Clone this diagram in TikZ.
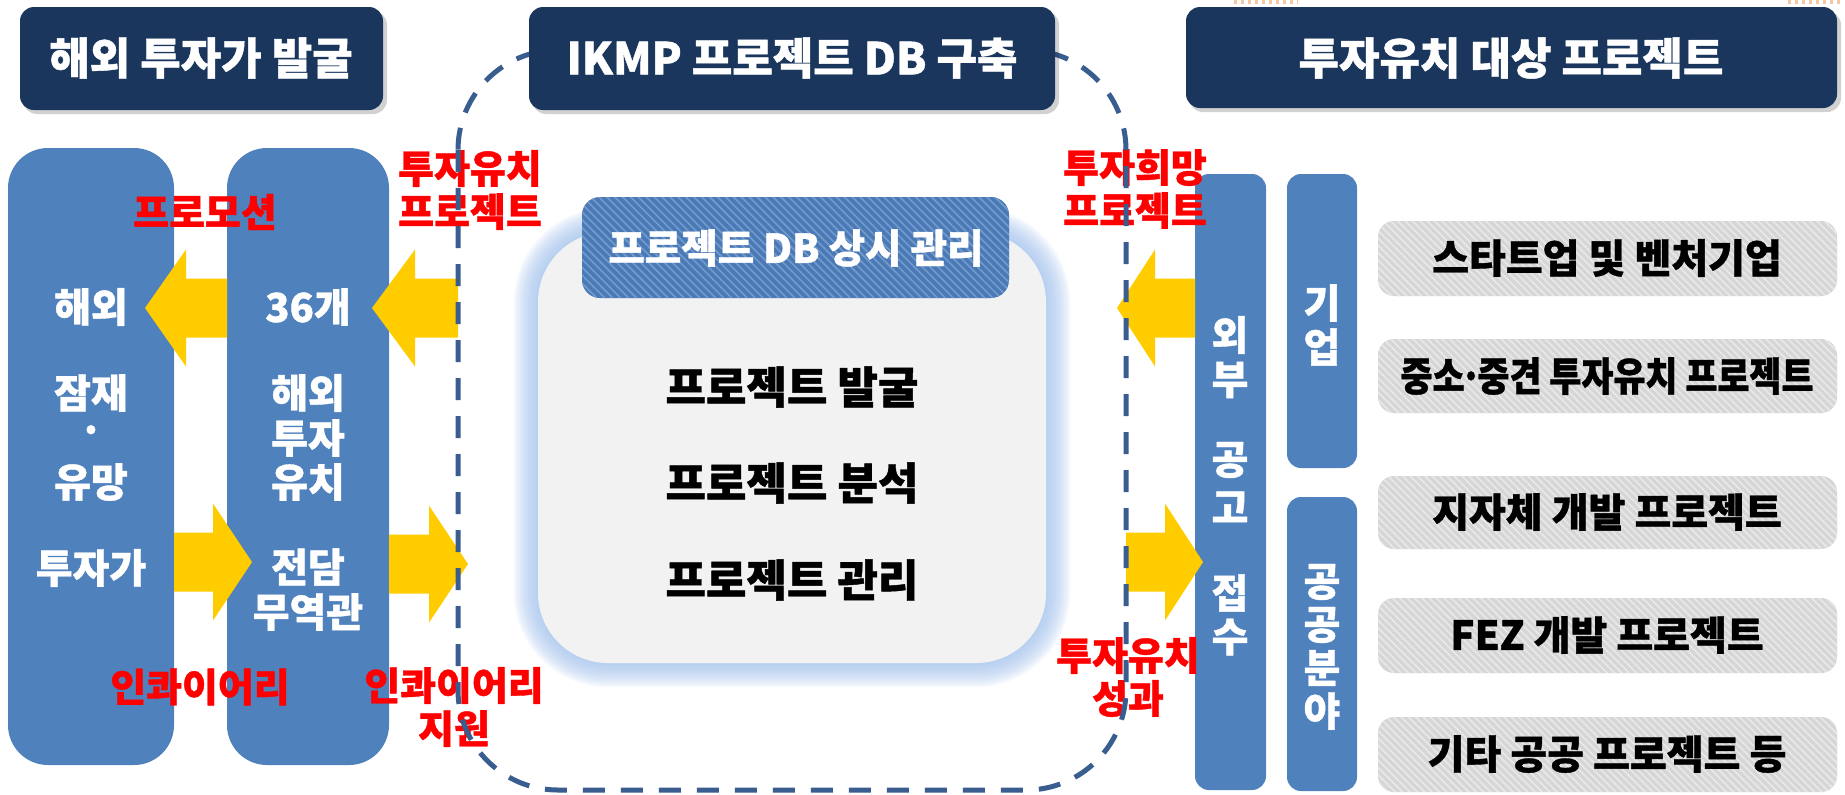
\documentclass[tikz,border=0pt]{standalone}
\usepackage{fontspec}
\setmainfont{Noto Sans CJK KR}[BoldFeatures={FakeBold=1}]
\usetikzlibrary{patterns.meta}
\definecolor{navy}{HTML}{1B365D}
\definecolor{colblue}{HTML}{4F81BD}
\definecolor{arrowc}{HTML}{FFCC00}
\definecolor{dashc}{HTML}{3A5D8F}
\definecolor{glowc}{HTML}{A7C7F0}
\definecolor{boxgray}{HTML}{F2F2F2}
\definecolor{hatchgray}{HTML}{D6D6D6}
\definecolor{hatchlight}{HTML}{E9E9E9}
\definecolor{subblue}{HTML}{4A79B6}
\definecolor{sublight}{HTML}{7099CC}
\definecolor{dotc}{HTML}{F2C9A6}
\newcommand\blockarrow[4]{% tail x, head base x, tip x, center y
  \fill[arrowc] ({#1},{#4-29.5}) -- ({#2},{#4-29.5}) -- ({#2},{#4-58.5}) -- ({#3},{#4})
    -- ({#2},{#4+58.5}) -- ({#2},{#4+29.5}) -- ({#1},{#4+29.5}) -- cycle;}
\begin{document}
\begin{tikzpicture}[x=0.5pt,y=-0.5pt,
 hdrbox/.style={fill=navy, rounded corners=7pt},
 shadowbox/.style={fill=black, opacity=0.18, rounded corners=7pt},
 colbox/.style={fill=colblue, rounded corners=20pt},
 thinbox/.style={fill=colblue, rounded corners=7pt},
 graybox/.style={fill=hatchgray, rounded corners=8pt},
 grayhatch/.style={pattern={Lines[angle=-45,distance=2.6pt,line width=0.8pt]}, pattern color=hatchlight, rounded corners=8pt},
 hdrtxt/.style={text=white, font=\bfseries\fontsize{22}{26}\selectfont, inner sep=0pt},
 coltxt/.style={text=white, font=\bfseries\fontsize{20}{24}\selectfont, inner sep=0pt},
 redtxt/.style={text=red, font=\bfseries\fontsize{19.5}{21.5}\selectfont, align=center, inner sep=0pt},
 maintxt/.style={text=black, font=\bfseries\fontsize{22}{26}\selectfont, inner sep=0pt},
 graytxt/.style={text=black, font=\bfseries\fontsize{20}{24}\selectfont, inner sep=0pt},
 subtxt/.style={text=white, font=\bfseries\fontsize{19.8}{23}\selectfont, inner sep=0pt},
 dashline/.style={draw=dashc, line width=2.5pt, dash pattern=on 11pt off 8pt, rounded corners=50pt},
]
\useasboundingbox (0,0) rectangle (1845,794);
\fill[white] (0,0) rectangle (1845,794);

% top faint dots
\draw[dotc, line width=2pt, dash pattern=on 1.5pt off 2pt] (1234,1.5) -- (1298,1.5);
\draw[dotc, line width=2pt, dash pattern=on 1.5pt off 2pt] (1788,1.5) -- (1842,1.5);

% left columns
\fill[colbox] (8,148) rectangle (174,765);
\fill[colbox] (227,148) rectangle (389,765);

% right columns
\fill[thinbox] (1195,174) rectangle (1266,790);
\fill[thinbox] (1287,174) rectangle (1357,468);
\fill[thinbox] (1287,497) rectangle (1357,791);

% gray boxes
\foreach \yt/\yb in {221/296, 339/413, 476/549, 598/673, 717/792}{
  \fill[graybox] (1378,\yt) rectangle (1837,\yb);
  \fill[grayhatch] (1378,\yt) rectangle (1837,\yb);
}

% main box with glow
\foreach \d in {24,22,...,2}{
  \pgfmathsetmacro\rr{35+\d/2}
  \fill[glowc, opacity=0.11, rounded corners=\rr pt] ({538-\d},{232-\d}) rectangle ({1046+\d},{663+\d});
}
\fill[boxgray, rounded corners=35pt] (538,232) rectangle (1046,663);

% sub header
\fill[subblue, rounded corners=9pt] (582,197) rectangle (1009,298);
\fill[pattern={Lines[angle=-45,distance=2.8pt,line width=0.9pt]}, pattern color=sublight, rounded corners=9pt] (582,197) rectangle (1009,298);
\node[subtxt] (sub) at (796,248) {프로젝트 DB 상시 관리};

% main texts
\node[maintxt] (m1) at (792,387) {프로젝트 발굴};
\node[maintxt] (m2) at (792,483) {프로젝트 분석};
\node[maintxt] (m3) at (792,580) {프로젝트 관리};

% arrows
\blockarrow{227}{186}{145}{308}
\blockarrow{458}{415}{372}{308}
\blockarrow{174}{213}{252}{562}
\blockarrow{389}{429}{468}{564}
\blockarrow{1195}{1155}{1117}{308}
\blockarrow{1126}{1165}{1203}{562}

% column 1 texts
\node[coltxt] (a1) at (91,307) {해외};
\node[coltxt] (a2) at (91,393) {잠재};
\node[coltxt] (a3) at (91,435) {·};
\node[coltxt] (a4) at (91,482) {유망};
\node[coltxt] (a5) at (91,568) {투자가};
% column 2 texts
\node[coltxt] (b1) at (308,307) {36개};
\node[coltxt] (b2) at (308,393) {해외};
\node[coltxt] (b3) at (308,438) {투자};
\node[coltxt] (b4) at (308,482) {유치};
\node[coltxt] (b5) at (308,567) {전담};
\node[coltxt] (b6) at (308,612) {무역관};

% right column texts
\foreach \ch/\yy [count=\i] in {외/335, 부/380, 공/460, 고/507, 접/593, 수/637}{
  \node[coltxt] (r\i) at (1230,\yy) {\ch};
}
\foreach \ch/\yy [count=\i] in {기/303, 업/347}{
  \node[coltxt] (k\i) at (1322,\yy) {\ch};
}
\foreach \ch/\yy [count=\i] in {공/582, 공/625, 분/668, 야/711}{
  \node[coltxt] (p\i) at (1322,\yy) {\ch};
}

% gray box texts
\node[graytxt] (g1) at (1607,258) {스타트업 및 벤처기업};
\node[graytxt] (g2) at (1607,376) {\scalebox{0.87}[1]{중소\kern-0.12em·\kern-0.12em중견 투자유치 프로젝트}};
\node[graytxt] (g3) at (1607,512) {지자체 개발 프로젝트};
\node[graytxt] (g4) at (1607,635) {FEZ 개발 프로젝트};
\node[graytxt] (g5) at (1607,754) {기타 공공 프로젝트 등};

% red labels
\node[redtxt] (l1) at (205,212) {프로모션};
\node[redtxt] (l2) at (470,190) {투자유치\\프로젝트};
\node[redtxt] (l3) at (200,687) {인콰이어리};
\node[redtxt] (l4) at (454,707) {인콰이어리\\지원};
\node[redtxt] (l5) at (1135,189) {투자희망\\프로젝트};
\node[redtxt] (l6) at (1128,677) {투자유치\\성과};

% dashed outline
\draw[dashline] (458,50) rectangle (1126,790);

% headers
\fill[shadowbox] (23,11) rectangle (387,114);
\fill[hdrbox] (20,7) rectangle (383,110);
\node[hdrtxt] (h1) at (201,58) {해외 투자가 발굴};
\fill[shadowbox] (532,11) rectangle (1059,114);
\fill[hdrbox] (529,7) rectangle (1055,110);
\node[hdrtxt] (h2) at (792,58) {IKMP 프로젝트 DB 구축};
\fill[shadowbox] (1189,11) rectangle (1841,112);
\fill[hdrbox] (1186,7) rectangle (1837,108);
\node[hdrtxt] (h3) at (1511,58) {투자유치 대상 프로젝트};
\end{tikzpicture}
\end{document}
